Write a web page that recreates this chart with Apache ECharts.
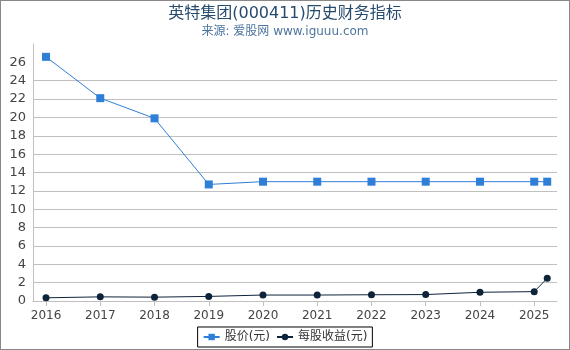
<!DOCTYPE html>
<html>
<head>
<meta charset="utf-8">
<script src="https://cdn.jsdelivr.net/npm/echarts@6/dist/echarts.min.js"></script>
<style>
  html, body { margin: 0; padding: 0; background: #fff; }
  #main { width: 568px; height: 348px; border: 1px solid #888; }
</style>
</head>
<body>
<div id="main"></div>
<script>
  // 年份（最后一个点为 2025 年中期数据）
  var years = [2016, 2017, 2018, 2019, 2020, 2021, 2022, 2023, 2024, 2025, 2025.24]
  var price = [26.6, 22.1, 19.9, 12.7, 13.0, 13.0, 13.0, 13.0, 13.0, 13.0, 13.0]
  var eps = [0.35, 0.45, 0.42, 0.5, 0.65, 0.65, 0.68, 0.7, 0.95, 1.02, 2.48]
  var yearTicks = [2016, 2017, 2018, 2019, 2020, 2021, 2022, 2023, 2024, 2025]
  var yTicks = [0, 2, 4, 6, 8, 10, 12, 14, 16, 18, 20, 22, 24, 26]

  function pairs (xs, ys) {
    var out = []
    for (var i = 0; i < xs.length; i++) {
      out.push([xs[i], ys[i]])
    }
    return out
  }

  var font = "'DejaVu Sans', 'Noto Sans CJK SC', sans-serif"
  var chart = echarts.init(document.getElementById('main'))
  chart.setOption({
    animation: false,
    textStyle: { fontFamily: font },
    title: {
      text: '英特集团(000411)历史财务指标',
      subtext: '来源: 爱股网 www.iguuu.com',
      left: 'center',
      top: 0,
      itemGap: 4,
      textStyle: { color: '#274b6d', fontSize: 16, fontWeight: 'normal', fontFamily: font },
      subtextStyle: { color: '#4d759e', fontSize: 12, fontFamily: font }
    },
    grid: { left: 32, right: 12, top: 43, bottom: 48 },
    xAxis: {
      type: 'value',
      min: 2015.76,
      max: 2025.42,
      offset: 3,
      axisLine: { show: true, lineStyle: { color: '#c0c0c0' } },
      axisTick: { show: true, length: 5, customValues: yearTicks, lineStyle: { color: '#c0c0c0' } },
      axisLabel: { customValues: yearTicks, color: '#444', fontSize: 12, margin: 6, formatter: function (v) { return String(Math.round(v)) } },
      splitLine: { show: false }
    },
    yAxis: {
      type: 'value',
      min: 0,
      max: 28,
      axisLine: { show: true, lineStyle: { color: '#c0c0c0' } },
      axisTick: { show: false, customValues: yTicks },
      axisLabel: { customValues: yTicks, color: '#444', fontSize: 13, margin: 7 },
      splitLine: { show: true, showMaxLine: false, lineStyle: { color: '#c0c0c0' } }
    },
    legend: {
      bottom: 2,
      left: 'center',
      borderColor: '#000',
      borderWidth: 1,
      padding: [4, 5],
      itemGap: 6,
      itemWidth: 16,
      itemHeight: 8,
      textStyle: { color: '#333', fontSize: 12, fontFamily: font },
      data: ['股价(元)', '每股收益(元)']
    },
    series: [
      {
        name: '股价(元)',
        type: 'line',
        data: pairs(years, price),
        symbol: 'rect',
        symbolSize: 8,
        color: '#2f7ed8',
        lineStyle: { width: 1 }
      },
      {
        name: '每股收益(元)',
        type: 'line',
        data: pairs(years, eps),
        symbol: 'circle',
        symbolSize: 7,
        color: '#0d233a',
        lineStyle: { width: 1 }
      }
    ]
  })
</script>
</body>
</html>
